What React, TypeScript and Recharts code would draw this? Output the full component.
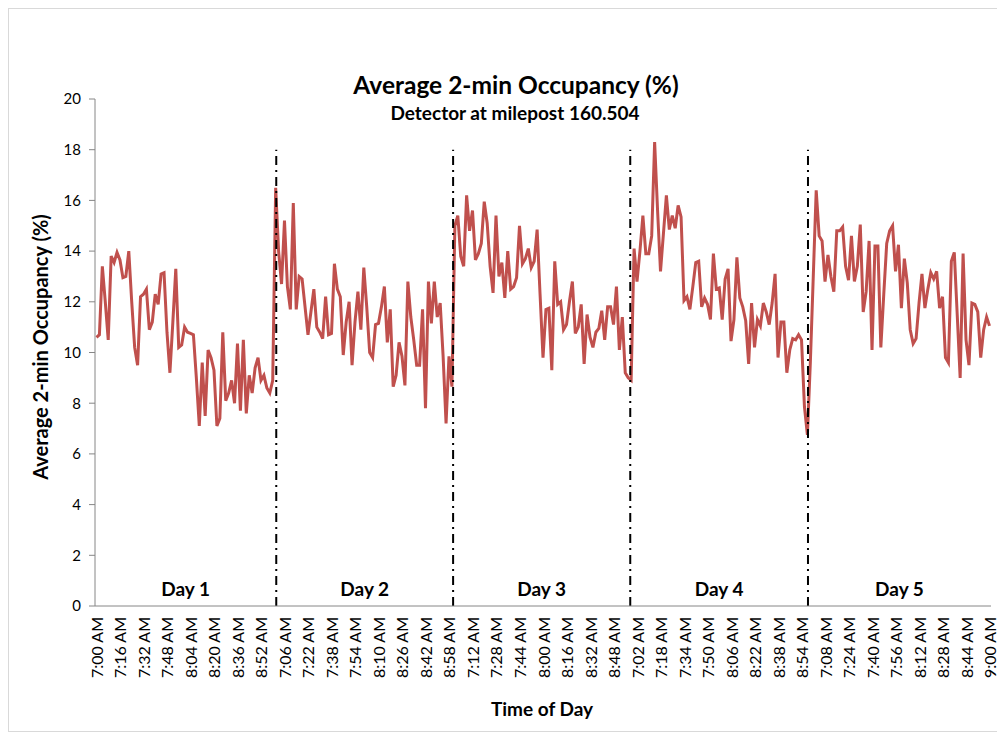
import React from 'react';
import { LineChart, Line, XAxis, YAxis, ReferenceLine, ReferenceArea } from 'recharts';

const day1 = [
  10.6, 10.7, 13.4, 12.0, 10.5, 13.8, 13.55, 13.95, 13.65, 12.95,
  13.0, 14.0, 12.0, 10.2, 9.5, 12.2, 12.3, 12.5, 10.9, 11.2,
  12.3, 11.9, 13.1, 13.15, 10.8, 9.2, 11.2, 13.3, 10.2, 10.3,
  11.0, 10.8, 10.75, 10.7, 9.0, 7.1, 9.6, 7.5, 10.1, 9.8,
  9.3, 7.1, 7.4, 10.8, 8.1, 8.4, 8.9, 8.0, 10.35, 7.7,
  10.5, 7.6, 9.1, 8.4, 9.4, 9.8, 8.9, 9.1, 8.6, 8.4,
  8.9,
];
const day2 = [
  16.5, 14.0, 12.7, 15.2, 12.6, 11.7, 15.9, 11.7, 13.0, 12.9,
  11.8, 10.7, 11.6, 12.5, 11.0, 10.8, 10.55, 12.2, 10.7, 10.75,
  13.5, 12.5, 12.2, 9.9, 11.2, 12.0, 9.5, 11.2, 12.4, 10.9,
  13.35, 11.8, 10.0, 9.8, 11.1, 11.15, 11.8, 12.6, 10.4, 11.7,
  8.65, 9.1, 10.4, 9.85, 8.7, 12.8, 11.4, 10.5, 9.5, 9.5,
  11.7, 7.8, 12.8, 11.15, 12.8, 11.4, 11.95, 9.85, 7.2, 9.85,
  8.65,
];
const day3 = [
  15.0, 15.4, 13.8, 13.4, 16.2, 14.8, 15.6, 13.65, 13.9, 14.3,
  15.95, 15.1, 13.4, 12.35, 15.4, 13.0, 13.55, 12.15, 14.0, 12.5,
  12.6, 12.95, 15.0, 13.5, 13.7, 14.1, 13.35, 13.6, 14.85, 12.3,
  9.8, 11.7, 11.75, 9.3, 13.6, 11.9, 12.0, 10.9, 11.1, 12.0,
  12.8, 10.75, 11.0, 11.9, 9.55, 11.5, 10.6, 10.2, 10.8, 10.95,
  11.65, 10.5, 11.8, 11.8, 11.1, 12.6, 10.1, 11.4, 9.2, 9.0,
  8.9,
];
const day4 = [
  14.1, 12.8, 14.0, 15.4, 13.9, 13.9, 14.6, 18.3, 15.6, 13.2,
  14.7, 16.2, 14.85, 15.4, 14.9, 15.8, 15.35, 12.05, 12.2, 11.7,
  12.6, 13.55, 13.6, 11.8, 12.15, 11.9, 11.3, 13.9, 12.5, 12.55,
  11.3, 12.9, 13.3, 10.45, 11.3, 13.75, 12.15, 11.8, 11.25, 9.55,
  11.95, 10.2, 11.3, 11.05, 11.95, 11.6, 11.1, 11.95, 13.1, 9.8,
  11.2, 11.2, 9.2, 10.1, 10.55, 10.5, 10.7, 10.5, 7.85, 6.75,
  9.6,
];
const day5 = [
  13.0, 16.4, 14.6, 14.4, 12.8, 13.85, 13.0, 12.4, 14.8, 14.8,
  14.95, 13.4, 12.85, 14.6, 12.8, 13.4, 15.05, 11.6, 12.4, 14.4,
  10.1, 14.2, 14.2, 10.2, 12.3, 14.3, 14.8, 15.0, 13.2, 14.25,
  11.75, 13.7, 12.75, 10.9, 10.35, 10.55, 11.95, 13.1, 11.75, 12.5,
  13.15, 12.9, 13.2, 11.75, 12.2, 9.8, 9.6, 13.6, 13.95, 11.5,
  9.0, 13.9, 10.5, 9.5, 11.95, 11.9, 11.6, 9.8, 10.9, 11.4,
  11.05,
];

const tickIndex = [
  0, 8, 16, 24, 32, 40, 48, 56, 64, 72, 80, 88, 96, 104, 112, 120,
  128, 136, 144, 152, 160, 168, 176, 184, 192, 200, 208, 216, 224, 232,
  240, 248, 256, 264, 272, 280, 288, 296, 304,
];
const tickLabels = [
  '7:00 AM', '7:16 AM', '7:32 AM', '7:48 AM', '8:04 AM', '8:20 AM', '8:36 AM', '8:52 AM',
  '7:06 AM', '7:22 AM', '7:38 AM', '7:54 AM', '8:10 AM', '8:26 AM', '8:42 AM', '8:58 AM',
  '7:12 AM', '7:28 AM', '7:44 AM', '8:00 AM', '8:16 AM', '8:32 AM', '8:48 AM',
  '7:02 AM', '7:18 AM', '7:34 AM', '7:50 AM', '8:06 AM', '8:22 AM', '8:38 AM', '8:54 AM',
  '7:08 AM', '7:24 AM', '7:40 AM', '7:56 AM', '8:12 AM', '8:28 AM', '8:44 AM', '9:00 AM',
];
const yTicks = [0, 2, 4, 6, 8, 10, 12, 14, 16, 18, 20];
const dayNames = ['Day 1', 'Day 2', 'Day 3', 'Day 4', 'Day 5'];
const dayBounds = [-0.5, 61.2, 121.4, 181.7, 242.2, 304.5];
const dividerPositions = [61.2, 121.4, 181.7, 242.2];
const dividerTop = 18;

const values = [...day1, ...day2, ...day3, ...day4, ...day5];
const data = values.map((v, i) => ({ i, v }));

const FONT = 'Lato, "Open Sans", sans-serif';

function XTick(props: any) {
  const { x, y, payload } = props;
  const k = tickIndex.indexOf(payload.value);
  return (
    <text
      transform={`translate(${x},${y}) rotate(-90)`}
      textAnchor="end"
      dominantBaseline="central"
      fontSize={16}
      fontFamily={FONT}
      fill="#000"
    >
      {tickLabels[k]}
    </text>
  );
}

export default function App() {
  return (
    <div
      style={{
        position: 'relative',
        width: 993,
        height: 722,
        border: '1px solid #d9d9d9',
        background: '#fff',
        fontFamily: FONT,
      }}
    >
      <LineChart
        width={993}
        height={722}
        data={data}
        margin={{ top: 90, right: 11, left: 0, bottom: 45 }}
      >
        <XAxis
          type="number"
          dataKey="i"
          domain={[-0.5, 304.5]}
          ticks={tickIndex}
          interval={0}
          tick={<XTick />}
          tickLine={false}
          tickSize={5}
          tickMargin={6}
          axisLine={{ stroke: '#868686', strokeWidth: 1 }}
          height={80}
          allowDataOverflow
        />
        <YAxis
          type="number"
          domain={[0, 20]}
          ticks={yTicks}
          interval={0}
          width={86}
          tickSize={6}
          tickMargin={8}
          tickLine={{ stroke: '#868686' }}
          axisLine={{ stroke: '#868686', strokeWidth: 1 }}
          tick={{ fontSize: 15, fill: '#000', fontFamily: FONT }}
        />
        {dayNames.map((name, k) => (
          <ReferenceArea
            key={name}
            x1={dayBounds[k]}
            x2={dayBounds[k + 1]}
            y1={0}
            y2={dividerTop}
            fillOpacity={0}
            strokeOpacity={0}
            label={{
              value: name,
              position: 'insideBottom',
              offset: 10,
              fontSize: 19,
              fontWeight: 700,
              fill: '#000',
              fontFamily: FONT,
            }}
          />
        ))}
        <Line
          type="linear"
          dataKey="v"
          stroke="#C0504D"
          strokeWidth={3}
          dot={false}
          activeDot={false}
          isAnimationActive={false}
        />
        {dividerPositions.map((p) => (
          <ReferenceLine
            key={p}
            segment={[
              { x: p, y: 0 },
              { x: p, y: dividerTop },
            ]}
            stroke="#000"
            strokeWidth={2}
            strokeDasharray="9 5 2 5"
          />
        ))}
      </LineChart>
      <div
        style={{
          position: 'absolute',
          left: 507,
          top: 64,
          transform: 'translateX(-50%)',
          whiteSpace: 'nowrap',
          fontSize: 24.5,
          lineHeight: 1,
          fontWeight: 700,
          color: '#000',
        }}
      >
        Average 2-min Occupancy (%)
      </div>
      <div
        style={{
          position: 'absolute',
          left: 506,
          top: 94,
          transform: 'translateX(-50%)',
          whiteSpace: 'nowrap',
          fontSize: 19,
          lineHeight: 1,
          fontWeight: 700,
          color: '#000',
        }}
      >
        Detector at milepost 160.504
      </div>
      <div
        style={{
          position: 'absolute',
          left: 31,
          top: 338,
          transform: 'translate(-50%, -50%) rotate(-90deg)',
          whiteSpace: 'nowrap',
          fontSize: 20,
          lineHeight: 1,
          fontWeight: 700,
          color: '#000',
        }}
      >
        Average 2-min Occupancy (%)
      </div>
      <div
        style={{
          position: 'absolute',
          left: 533,
          top: 690,
          transform: 'translateX(-50%)',
          whiteSpace: 'nowrap',
          fontSize: 19,
          lineHeight: 1,
          fontWeight: 700,
          color: '#000',
        }}
      >
        Time of Day
      </div>
    </div>
  );
}
